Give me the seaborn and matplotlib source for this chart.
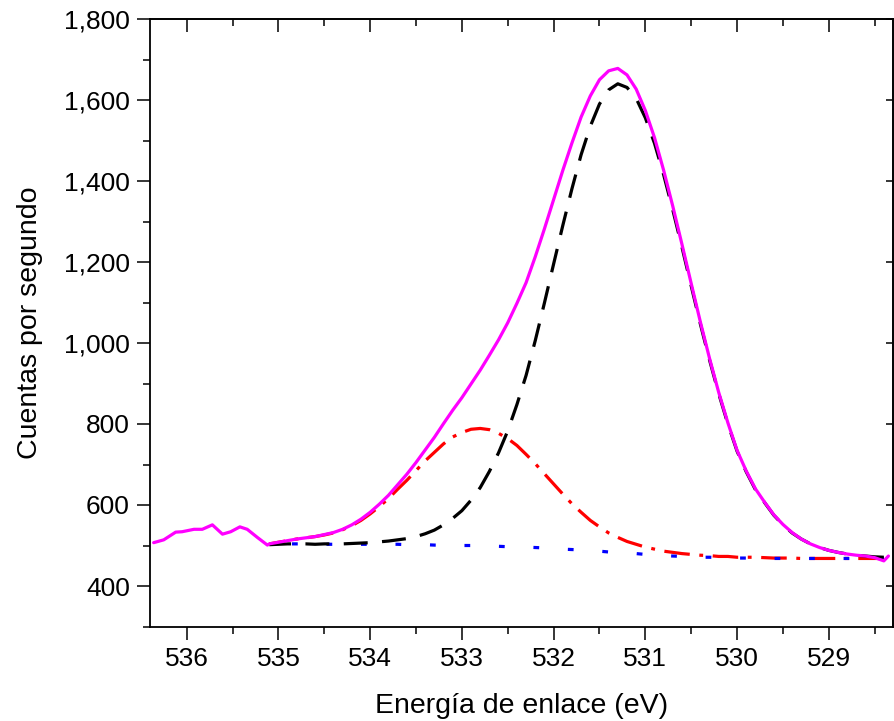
import matplotlib
matplotlib.use("Agg")
import matplotlib.pyplot as plt
from matplotlib.ticker import MultipleLocator, FuncFormatter, NullLocator, NullFormatter
import pandas as pd
import seaborn as sns

# Raw O 1s counts at the high binding-energy end (before the fit window)
raw_be = [536.36, 536.25, 536.12, 536.05, 535.92, 535.83, 535.72, 535.61,
          535.52, 535.42, 535.34, 535.23, 535.12]
raw_cps = [507, 514, 533, 534, 540, 540, 551, 528, 534, 546, 540, 520, 501]

# Fit window, 0.1 eV steps from 535.1 down to 528.4 eV
fit_be = [535.1, 535.0, 534.9, 534.8, 534.7, 534.6, 534.5, 534.4, 534.3, 534.2,
          534.1, 534.0, 533.9, 533.8, 533.7, 533.6, 533.5, 533.4, 533.3, 533.2,
          533.1, 533.0, 532.9, 532.8, 532.7, 532.6, 532.5, 532.4, 532.3, 532.2,
          532.1, 532.0, 531.9, 531.8, 531.7, 531.6, 531.5, 531.4, 531.3, 531.2,
          531.1, 531.0, 530.9, 530.8, 530.7, 530.6, 530.5, 530.4, 530.3, 530.2,
          530.1, 530.0, 529.9, 529.8, 529.7, 529.6, 529.5, 529.4, 529.3, 529.2,
          529.1, 529.0, 528.9, 528.8, 528.7, 528.6, 528.5, 528.4]

# Shirley background
background = [502, 503, 504, 504, 504, 503, 503, 503, 503, 503,
              503, 503, 503, 503, 503, 502, 502, 502, 501, 501,
              501, 500, 500, 499, 499, 498, 497, 497, 496, 495,
              494, 493, 491, 490, 489, 487, 486, 484, 483, 481,
              480, 478, 477, 475, 474, 473, 472, 471, 471, 470,
              470, 469, 469, 469, 469, 468, 468, 468, 468, 468,
              468, 468, 468, 468, 468, 468, 468, 468]

# Lattice oxide component (~531.3 eV), drawn on top of the background
peak_lattice = [502, 503, 504, 504, 504, 503, 504, 504, 504, 505,
                506, 507, 509, 511, 514, 517, 522, 529, 538, 551,
                567, 586, 612, 643, 683, 729, 783, 848, 920, 1006,
                1099, 1195, 1290, 1381, 1465, 1535, 1590, 1625, 1640, 1631,
                1604, 1556, 1493, 1415, 1328, 1236, 1141, 1047, 958, 875,
                800, 733, 682, 638, 606, 575, 551, 531, 516, 504,
                495, 488, 483, 479, 476, 474, 472, 471]

# Hydroxyl / defect component (~532.8 eV), drawn on top of the background
peak_hydroxyl = [504, 508, 512, 516, 519, 522, 526, 531, 539, 549,
                 562, 578, 596, 616, 639, 661, 685, 709, 730, 751,
                 768, 779, 787, 789, 786, 777, 764, 747, 725, 702,
                 677, 652, 627, 603, 582, 562, 546, 531, 520, 510,
                 503, 496, 491, 486, 483, 480, 478, 476, 475, 473,
                 473, 471, 471, 471, 470, 469, 469, 469, 468, 468,
                 468, 468, 468, 468, 468, 468, 468, 468]

# Fit envelope (sum of components over the background)
envelope = [504, 508, 512, 516, 519, 522, 527, 532, 540, 551,
            565, 582, 602, 624, 650, 676, 705, 736, 767, 801,
            834, 865, 899, 933, 970, 1008, 1050, 1098, 1149, 1213,
            1282, 1354, 1426, 1494, 1558, 1610, 1650, 1672, 1678, 1662,
            1627, 1574, 1507, 1426, 1337, 1243, 1147, 1052, 962, 878,
            803, 735, 684, 640, 607, 576, 552, 532, 516, 504,
            495, 488, 483, 479, 476, 474, 470, 462]

# Last raw point past the fit window
tail_be = [528.35]
tail_cps = [474]

sns.set_style("white")
plt.rcParams["font.family"] = ["Liberation Sans", "DejaVu Sans"]
plt.rcParams["lines.solid_joinstyle"] = "round"

fit = pd.DataFrame({"be": fit_be, "bg": background, "p1": peak_lattice,
                    "p2": peak_hydroxyl})
spectrum = pd.DataFrame({"be": raw_be + fit_be + tail_be,
                         "cps": raw_cps + envelope + tail_cps})

fig = plt.figure(figsize=(8.94, 7.21), dpi=100)
ax = fig.add_axes([150 / 894, 1 - 626.5 / 721, (893 - 150) / 894, (626.5 - 19) / 721])

lw = 2.3
sns.lineplot(data=fit, x="be", y="p2", ax=ax, color="#FF0000", lw=lw,
             linestyle=(0, (8, 3, 1.2, 3)), estimator=None)
sns.lineplot(data=fit, x="be", y="bg", ax=ax, color="#0000FF", lw=lw,
             linestyle=(0, (1.8, 9)), estimator=None)
sns.lineplot(data=fit, x="be", y="p1", ax=ax, color="black", lw=lw,
             linestyle=(0, (7.5, 4.5)), estimator=None)
sns.lineplot(data=spectrum, x="be", y="cps", ax=ax, color="#FF00FF", lw=lw,
             estimator=None)

ax.set_xlim(536.40, 528.30)
ax.set_ylim(300, 1800)
ax.xaxis.set_major_locator(MultipleLocator(1))
ax.xaxis.set_minor_locator(MultipleLocator(0.5))
ax.yaxis.set_major_locator(MultipleLocator(200))
ax.yaxis.set_minor_locator(MultipleLocator(100))
ax.yaxis.set_major_formatter(FuncFormatter(lambda v, p: f"{int(v):,}"))
ax.xaxis.set_major_formatter(FuncFormatter(lambda v, p: f"{v:.0f}"))

for s in ax.spines.values():
    s.set_visible(True)
    s.set_color("black")
    s.set_linewidth(1.3)

ax.tick_params(axis="both", which="both", direction="out", color="black",
               width=1.1, labelsize=19, labelcolor="black",
               top=False, right=False, bottom=True, left=True)
ax.tick_params(axis="both", which="major", length=9.5)
ax.tick_params(axis="both", which="minor", length=5)
ax.tick_params(axis="x", which="major", pad=5)
ax.tick_params(axis="y", which="major", pad=5)

# mirrored axes: inward ticks on top (major + minor) and right (major only)
top = ax.secondary_xaxis("top")
top.xaxis.set_major_locator(MultipleLocator(1))
top.xaxis.set_minor_locator(MultipleLocator(0.5))
top.xaxis.set_major_formatter(NullFormatter())
top.tick_params(which="both", direction="in", color="black", width=1.1)
top.tick_params(which="major", length=9.5)
top.tick_params(which="minor", length=5)
top.spines["top"].set_linewidth(1.3)

right = ax.secondary_yaxis("right")
right.yaxis.set_major_locator(MultipleLocator(200))
right.yaxis.set_minor_locator(NullLocator())
right.yaxis.set_major_formatter(NullFormatter())
right.tick_params(which="major", direction="in", color="black", width=1.1,
                  length=5)
right.spines["right"].set_linewidth(1.3)

ax.set_xlabel("Energía de enlace (eV)", fontsize=20.5, color="black",
              labelpad=16)
ax.set_ylabel("Cuentas por segundo", fontsize=20.5, color="black",
              labelpad=15)

fig.savefig("out.png", dpi=100)
